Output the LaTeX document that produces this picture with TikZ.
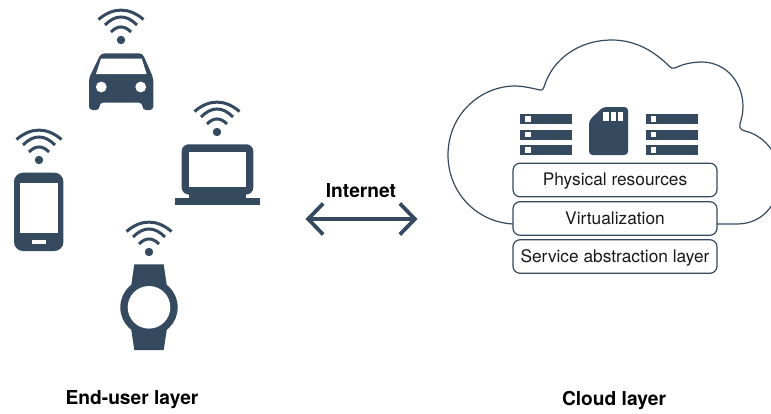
\documentclass[tikz,border=0pt]{standalone}
\usepackage{fontspec}
\setmainfont{TeX Gyre Heros}
\usetikzlibrary{arrows.meta}
\definecolor{ink}{HTML}{35495F}
\tikzset{
  wave/.style={draw=ink,line width=3pt,fill=none},
  layerbox/.style={draw=ink,fill=white,line width=1.2pt,rounded corners=7pt,minimum width=204pt,minimum height=33.5pt,inner sep=0pt,text height=12.8pt,text depth=1pt,font=\fontsize{17.3}{20}\selectfont,text=black!90},
  title/.style={font=\bfseries\fontsize{19.2}{22}\selectfont,text=black,inner sep=0pt},
  wifi/.pic={
    \fill[ink] (0,0) circle (4.2pt);
    \draw[wave] (-10,-8) .. controls (-3.5,-14.7) and (3.5,-14.7) .. (10,-8);
    \draw[wave] (-16,-15) .. controls (-5.5,-25.7) and (5.5,-25.7) .. (16,-15);
    \draw[wave] (-22.5,-20.5) .. controls (-8,-33) and (8,-33) .. (22.5,-20.5);
  },
  serverrack/.pic={
    \foreach \yy in {0,15.5,31}{
      \fill[ink] (0,\yy) rectangle (52,\yy+10.2);
      \fill[white] (5.2,\yy+2.4) rectangle (10.8,\yy+7.8);
    }
  }
}
\begin{document}
\begin{tikzpicture}[x=1pt,y=-1pt]
\useasboundingbox (0,0) rectangle (771,413);
\begin{scope}
\clip (0,0) rectangle (771,413);

% wifi symbols
\pic at (121,40) {wifi};
\pic at (217,132) {wifi};
\pic at (39,160) {wifi};
\pic at (149,252) {wifi};

% car
\fill[ink,rounded corners=3.5pt] (101,53.3) -- (142.5,53.3) -- (153.3,78) -- (153.3,110) -- (142.5,110) -- (142.5,102.7) -- (99.5,102.7) -- (99.5,110) -- (89,110) -- (89,78) -- cycle;
\fill[white] (101,58.7) -- (141.7,58.7) -- (146.7,74) -- (96,74) -- cycle;
\fill[white] (101.3,87) circle (5.4pt) (140.7,87) circle (5.4pt);

% laptop
\fill[ink,rounded corners=7pt] (181.7,144.3) rectangle (253.3,194.5);
\fill[ink] (189,190) rectangle (246,199);
\fill[ink] (174.5,197.8) rectangle (260.3,205);
\fill[white] (189,151.7) rectangle (246,187.3);

% phone
\fill[ink,rounded corners=9pt] (14,172.7) rectangle (63.4,251);
\fill[white] (20.3,182.7) rectangle (57.7,233.3);
\fill[white] (31.7,240.3) rectangle (46,244);

% watch
\fill[ink] (134.3,264.3) -- (163.7,264.3) -- (167,287) -- (131,287) -- cycle;
\fill[ink] (131,328) -- (167,328) -- (163.7,350) -- (134.3,350) -- cycle;
\fill[ink] (149,307.3) circle (28.7pt);
\fill[white] (149,307.3) circle (21.3pt);

% cloud
\draw[ink,line width=1.2pt,fill=white] (513,224)
  .. controls (476,222) and (448,192) .. (448,155)
  .. controls (448,114) and (481,86) .. (515,86)
  .. controls (523,86) and (531,88) .. (540,90)
  .. controls (542,90.5) and (543,90) .. (544,87)
  .. controls (552,60) and (578,40) .. (612,40)
  .. controls (637,40) and (656,53) .. (669,66)
  .. controls (671,68) and (672,69) .. (675,68)
  .. controls (683,64) and (692,62) .. (703,62)
  .. controls (727,63) and (743,83) .. (743,107)
  .. controls (743,114) and (741,120) .. (740,124)
  .. controls (739,128) and (741,130) .. (745,131)
  .. controls (762,135) and (776,150) .. (780,170)
  .. controls (782,200) and (765,224) .. (737,224)
  -- (717,224);

% servers and memory card
\pic at (520,114) {serverrack};
\pic at (645.5,114) {serverrack};
\fill[ink,rounded corners=3.5pt] (589,155) -- (589,120.5) -- (603,107) -- (628,107) -- (628,155) -- cycle;
\fill[white] (603.3,112) rectangle (608.7,121);
\fill[white] (611,112) rectangle (616.2,121);
\fill[white] (618.2,112) rectangle (623.4,121);
\end{scope}

% layers
\node[layerbox] (phys) at (615,180) {Physical resources};
\node[layerbox] (virt) at (615,218.5) {Virtualization};
\node[layerbox] (serv) at (615,256.5) {Service abstraction layer};

% internet arrow
\coordinate (netL) at (305.5,219);
\coordinate (netR) at (417.5,219);
\draw[ink,line width=3.4pt,{Straight Barb[length=15pt,width=31pt,line width=3.8pt]}-{Straight Barb[length=15pt,width=31pt,line width=3.8pt]}] (netL) -- (netR);
\node[title] (internet) at (361,190.5) {Internet};

% titles
\node[title] (enduser) at (132,400) {End-user layer};
\node[title] (cloudlabel) at (614,400) {Cloud layer};
\end{tikzpicture}
\end{document}
